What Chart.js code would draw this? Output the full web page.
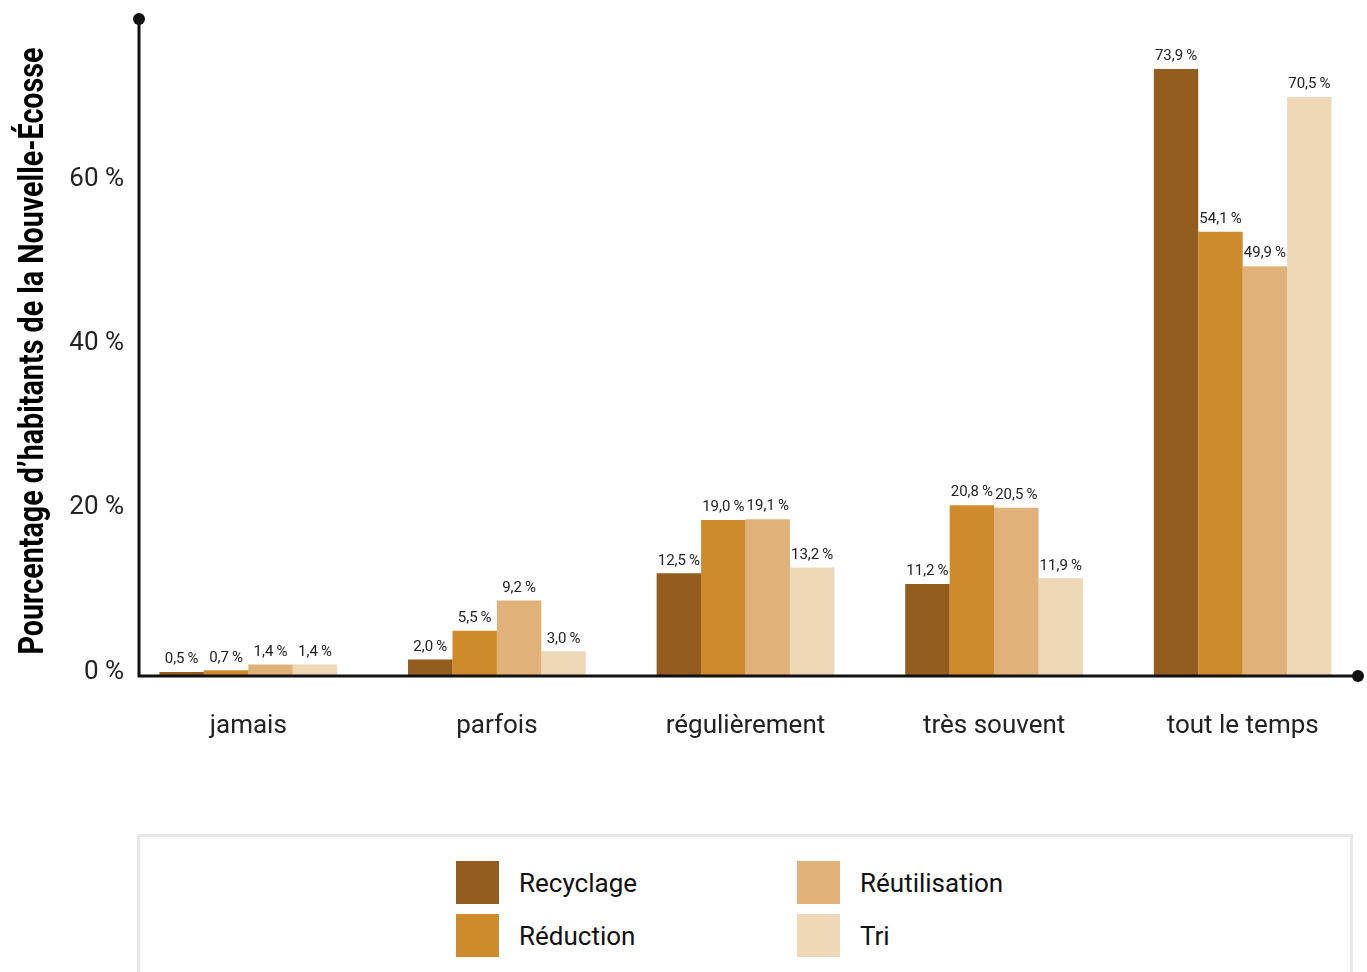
<!DOCTYPE html>
<html>
<head>
<meta charset="utf-8">
<script src="https://cdn.jsdelivr.net/npm/chart.js@4"></script>
<style>
  body { margin: 0; background: #fff; font-family: Roboto, sans-serif; }
  #wrap { position: relative; width: 1367px; height: 972px; overflow: hidden; }
  #chartBox { position: absolute; left: 0; top: 0; width: 1367px; height: 800px; }
  #legend {
    position: absolute; left: 137px; top: 834px; width: 1216px; height: 200px;
    box-sizing: border-box; border: 3px solid #e8e8e8; background: #fff;
  }
  .item { position: absolute; display: flex; align-items: center; font-size: 26px; color: #111; }
  .sw { width: 43px; height: 43px; margin-right: 20px; }
</style>
</head>
<body>
<div id="wrap">
  <div id="chartBox"><canvas id="chart"></canvas></div>
  <div id="legend"></div>
</div>
<script>
const categories = ["jamais", "parfois", "régulièrement", "très souvent", "tout le temps"];
const seriesNames = ["Recyclage", "Réduction", "Réutilisation", "Tri"];
const recyclage = [0.5, 2.0, 12.5, 11.2, 73.9];
const reduction = [0.7, 5.5, 19.0, 20.8, 54.1];
const reutilisation = [1.4, 9.2, 19.1, 20.5, 49.9];
const tri = [1.4, 3.0, 13.2, 11.9, 70.5];
const yTicks = [0, 20, 40, 60];

const COLORS = ["#935d20", "#ce8b2c", "#e0b279", "#efd8b7"];
const YTITLE = "Pourcentage d’habitants de la Nouvelle-Écosse";

function fmt(v) {
  return v.toFixed(1).replace(".", ",") + "\u2009%";
}

// -------- axes with dots + value labels + rotated title
const decor = {
  id: "decor",
  afterDatasetsDraw(chart) {
    const ctx = chart.ctx;
    const a = chart.chartArea;
    const x0 = a.left + 15;
    const xEnd = a.right - 9;

    ctx.save();
    // value labels
    ctx.font = "15px Roboto";
    ctx.fillStyle = "#222";
    ctx.textAlign = "center";
    ctx.textBaseline = "bottom";
    chart.data.datasets.forEach((ds, i) => {
      chart.getDatasetMeta(i).data.forEach((bar, j) => {
        ctx.fillText(fmt(ds.data[j]), bar.x, bar.y - 5);
      });
    });

    // axis lines
    ctx.strokeStyle = "#111";
    ctx.fillStyle = "#111";
    ctx.lineWidth = 3;
    ctx.beginPath();
    ctx.moveTo(x0, a.top);
    ctx.lineTo(x0, a.bottom);
    ctx.lineTo(xEnd, a.bottom);
    ctx.stroke();
    ctx.beginPath();
    ctx.arc(x0, a.top, 6, 0, Math.PI * 2);
    ctx.fill();
    ctx.beginPath();
    ctx.arc(xEnd, a.bottom, 6, 0, Math.PI * 2);
    ctx.fill();

    // y title (condensed bold)
    ctx.font = "bold 35px Roboto";
    ctx.fillStyle = "#000";
    ctx.textAlign = "center";
    ctx.textBaseline = "alphabetic";
    const w = ctx.measureText(YTITLE).width;
    ctx.translate(43, 351);
    ctx.rotate(-Math.PI / 2);
    ctx.scale(607 / w, 1);
    ctx.fillText(YTITLE, 0, 0);
    ctx.restore();
  },
};

const seriesData = [recyclage, reduction, reutilisation, tri];

new Chart(document.getElementById("chart"), {
  type: "bar",
  data: {
    labels: categories,
    datasets: seriesNames.map((name, i) => ({
      label: name,
      data: seriesData[i],
      backgroundColor: COLORS[i],
      borderWidth: 0,
      categoryPercentage: 0.715,
      barPercentage: 1,
    })),
  },
  options: {
    responsive: true,
    maintainAspectRatio: false,
    animation: false,
    layout: { padding: { top: 19, right: 0, left: 0, bottom: 0 } },
    plugins: { legend: { display: false }, tooltip: { enabled: false } },
    scales: {
      x: {
        grid: { display: false, drawTicks: false },
        border: { display: false },
        ticks: { color: "#222", font: { family: "Roboto", size: 26 }, padding: 35, maxRotation: 0 },
        afterFit: (s) => { s.height = 124; },
      },
      y: {
        min: 0,
        max: 80,
        grid: { display: false, drawTicks: false },
        border: { display: false },
        afterBuildTicks: (s) => { s.ticks = yTicks.map((v) => ({ value: v })); },
        ticks: {
          color: "#222",
          font: { family: "Roboto", size: 26 },
          padding: 0,
          labelOffset: -4,
          callback: (v) => v + " %",
        },
        afterFit: (s) => { s.width = 124; },
      },
    },
  },
  plugins: [decor],
});

// -------- legend (two columns)
const legend = document.getElementById("legend");
const pos = [[316, 24], [316, 77], [657, 24], [657, 77]];
seriesNames.forEach((name, i) => {
  const el = document.createElement("div");
  el.className = "item";
  el.style.left = pos[i][0] + "px";
  el.style.top = pos[i][1] + "px";
  el.innerHTML = `<span class="sw" style="background:${COLORS[i]}"></span><span>${name}</span>`;
  legend.appendChild(el);
});
</script>
</body>
</html>
